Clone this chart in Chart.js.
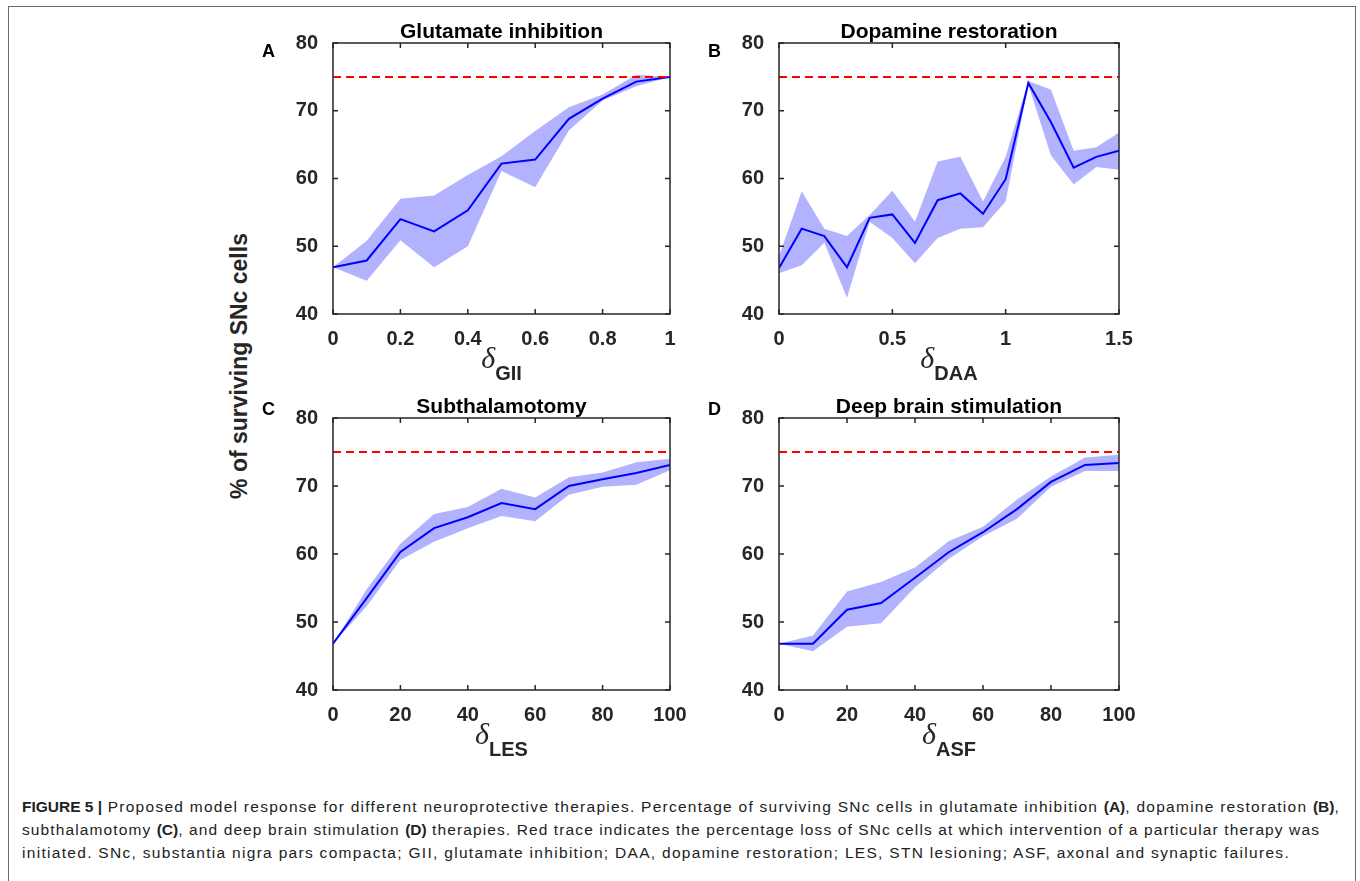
<!DOCTYPE html>
<html>
<head>
<meta charset="utf-8">
<script src="https://cdn.jsdelivr.net/npm/chart.js@4.4.1/dist/chart.umd.min.js"></script>
<style>
  body{margin:0;background:#fff;width:1360px;height:881px;overflow:hidden;position:relative;
       font-family:"Liberation Sans",Arial,Helvetica,sans-serif;}
  #frame{position:absolute;left:8px;top:6px;width:1348px;height:900px;border:1.5px solid #6a6a6a;box-sizing:border-box;}
  canvas{position:absolute;}
  .ttl{position:absolute;font-weight:bold;font-size:21px;line-height:1;text-align:center;color:#000;white-space:nowrap;}
  .let{position:absolute;font-weight:bold;font-size:18px;line-height:1;color:#000;}
  .xl{position:absolute;text-align:center;white-space:nowrap;color:#262626;line-height:1;}
  .xl .d{font-family:"Liberation Serif","DejaVu Serif",serif;font-style:italic;font-size:30px;}
  .xl .s{font-weight:bold;font-size:20px;position:relative;top:12px;}
  #ylab{position:absolute;left:239px;top:366px;transform:translate(-50%,-50%) rotate(-90deg);
        font-weight:bold;font-size:23px;color:#262626;white-space:nowrap;line-height:1;}
  #cap{position:absolute;left:22px;top:795px;font-size:15.5px;line-height:23px;color:#222;white-space:nowrap;}
  #cap span{display:block;width:max-content;}
  #cap b{letter-spacing:0 !important;}
</style>
</head>
<body>
<div id="frame"></div>
<div id="ylab">% of surviving SNc cells</div>
<div id="cap"><span data-w="1318"><b>FIGURE 5 |</b> Proposed model response for different neuroprotective therapies. Percentage of surviving SNc cells in glutamate inhibition <b>(A)</b>, dopamine restoration <b>(B)</b>,</span><span data-w="1298">subthalamotomy <b>(C)</b>, and deep brain stimulation <b>(D)</b> therapies. Red trace indicates the percentage loss of SNc cells at which intervention of a particular therapy was</span><span data-w="1268">initiated. SNc, substantia nigra pars compacta; GII, glutamate inhibition; DAA, dopamine restoration; LES, STN lesioning; ASF, axonal and synaptic failures.</span></div>
<script>
// values (% of surviving SNc cells)
const threshold = 75;
const yTicks = [40, 50, 60, 70, 80];

const xGII = [0, 0.1, 0.2, 0.3, 0.4, 0.5, 0.6, 0.7, 0.8, 0.9, 1];
const meanGII = [46.9, 47.9, 54.0, 52.2, 55.3, 62.2, 62.8, 68.8, 71.8, 74.3, 75.0];
const upperGII = [46.9, 50.8, 57.0, 57.5, 60.5, 63.3, 67.0, 70.5, 72.4, 75.3, 75.0];
const lowerGII = [46.9, 44.9, 50.9, 46.9, 50.0, 61.1, 58.7, 67.1, 71.5, 73.6, 75.0];
const ticksGII = [0, 0.2, 0.4, 0.6, 0.8, 1];

const xDAA = [0, 0.1, 0.2, 0.3, 0.4, 0.5, 0.6, 0.7, 0.8, 0.9, 1.0, 1.1, 1.2, 1.3, 1.4, 1.5];
const meanDAA = [46.8, 52.6, 51.5, 46.9, 54.2, 54.7, 50.5, 56.8, 57.8, 54.8, 59.9, 74.1, 68.3, 61.6, 63.2, 64.1];
const upperDAA = [48.5, 58.1, 52.6, 51.5, 54.6, 58.2, 53.6, 62.5, 63.2, 56.6, 63.2, 74.4, 73.1, 64.1, 64.6, 66.8];
const lowerDAA = [46.0, 47.2, 50.5, 42.4, 53.6, 51.2, 47.5, 51.2, 52.6, 52.8, 56.6, 73.8, 63.4, 59.1, 61.7, 61.3];
const ticksDAA = [0, 0.5, 1, 1.5];

const xLES = [0, 10, 20, 30, 40, 50, 60, 70, 80, 90, 100];
const meanLES = [46.8, 53.5, 60.3, 63.8, 65.4, 67.5, 66.6, 70.0, 71.0, 71.9, 73.1];
const upperLES = [46.8, 54.8, 61.5, 65.9, 66.9, 69.6, 68.3, 71.3, 72.0, 73.5, 74.0];
const lowerLES = [46.8, 52.3, 59.1, 61.8, 63.8, 65.6, 64.8, 68.7, 69.9, 70.2, 72.3];
const ticksLES = [0, 20, 40, 60, 80, 100];

const xASF = [0, 10, 20, 30, 40, 50, 60, 70, 80, 90, 100];
const meanASF = [46.8, 46.8, 51.8, 52.8, 56.5, 60.3, 63.2, 66.6, 70.6, 73.1, 73.4];
const upperASF = [46.8, 48.0, 54.5, 55.9, 58.0, 61.9, 64.0, 68.0, 71.4, 74.2, 74.6];
const lowerASF = [46.8, 45.7, 49.3, 49.8, 55.1, 59.3, 62.6, 65.2, 69.9, 72.2, 72.2];
const ticksASF = [0, 20, 40, 60, 80, 100];

const titles = ['Glutamate inhibition', 'Dopamine restoration', 'Subthalamotomy', 'Deep brain stimulation'];
const letters = ['A', 'B', 'C', 'D'];
const subscripts = ['GII', 'DAA', 'LES', 'ASF'];

const panels = [
  {x: xGII, mean: meanGII, up: upperGII, lo: lowerGII, ticks: ticksGII, box: {left: 333, top: 43, w: 337, h: 271}},
  {x: xDAA, mean: meanDAA, up: upperDAA, lo: lowerDAA, ticks: ticksDAA, box: {left: 779, top: 43, w: 340, h: 271}},
  {x: xLES, mean: meanLES, up: upperLES, lo: lowerLES, ticks: ticksLES, box: {left: 333, top: 418, w: 337, h: 272}},
  {x: xASF, mean: meanASF, up: upperASF, lo: lowerASF, ticks: ticksASF, box: {left: 779, top: 418, w: 340, h: 272}}
];

const AX = '#262626';
const PADL = 60, PADT = 25, PADR = 30, PADB = 45;

// matlab-style box with inward ticks on all four sides
const boxTicks = {
  id: 'boxTicks',
  afterDatasetsDraw(chart) {
    const {ctx, chartArea: a, scales} = chart;
    ctx.save();
    ctx.strokeStyle = AX;
    ctx.lineWidth = 1.5;
    ctx.beginPath();
    const L = 5;
    scales.x.ticks.forEach(t => {
      const px = scales.x.getPixelForValue(t.value);
      ctx.moveTo(px, a.bottom); ctx.lineTo(px, a.bottom - L);
      ctx.moveTo(px, a.top); ctx.lineTo(px, a.top + L);
    });
    scales.y.ticks.forEach(t => {
      const py = scales.y.getPixelForValue(t.value);
      ctx.moveTo(a.left, py); ctx.lineTo(a.left + L, py);
      ctx.moveTo(a.right, py); ctx.lineTo(a.right - L, py);
    });
    ctx.stroke();
    ctx.strokeRect(a.left, a.top, a.right - a.left, a.bottom - a.top);
    ctx.restore();
  }
};

const pts = (xs, ys) => xs.map((v, i) => ({x: v, y: ys[i]}));
const tickFont = {family: '"Liberation Sans", Arial, sans-serif', size: 20, weight: 'bold'};

panels.forEach((p, i) => {
  const b = p.box;
  const cv = document.createElement('canvas');
  const W = b.w + PADL + PADR, H = b.h + PADT + PADB;
  cv.width = W; cv.height = H;
  cv.style.left = (b.left - PADL) + 'px';
  cv.style.top = (b.top - PADT) + 'px';
  document.body.appendChild(cv);

  const xmin = p.ticks[0], xmax = p.ticks[p.ticks.length - 1];
  new Chart(cv, {
    type: 'line',
    data: {
      datasets: [
        {data: [{x: xmin, y: threshold}, {x: xmax, y: threshold}], borderColor: '#ff0000', borderWidth: 2,
         borderDash: [8, 5], pointRadius: 0, fill: false},
        {data: pts(p.x, p.mean), borderColor: '#0000ff', borderWidth: 2, pointRadius: 0, fill: false, tension: 0},
        {data: pts(p.x, p.up), borderColor: 'transparent', borderWidth: 0, pointRadius: 0,
         backgroundColor: 'rgba(0,0,255,0.3)', fill: '+1'},
        {data: pts(p.x, p.lo), borderColor: 'transparent', borderWidth: 0, pointRadius: 0, fill: false}
      ]
    },
    options: {
      responsive: false,
      animation: false,
      devicePixelRatio: 1,
      layout: {padding: {left: 0, top: PADT, right: PADR, bottom: 0}},
      plugins: {legend: {display: false}, tooltip: {enabled: false}},
      scales: {
        x: {
          type: 'linear', min: xmin, max: xmax,
          grid: {display: false}, border: {display: false},
          afterBuildTicks: s => { s.ticks = p.ticks.map(v => ({value: v})); },
          afterFit: s => { s.height = PADB; },
          ticks: {color: AX, font: tickFont, padding: 5, maxRotation: 0, callback: v => String(v)}
        },
        y: {
          type: 'linear', min: 40, max: 80,
          grid: {display: false}, border: {display: false},
          afterBuildTicks: s => { s.ticks = yTicks.map(v => ({value: v})); },
          afterFit: s => { s.width = PADL; },
          ticks: {color: AX, font: tickFont, padding: 7, callback: v => String(v)}
        }
      }
    },
    plugins: [boxTicks]
  });

  const cx = b.left + b.w / 2;
  const t = document.createElement('div');
  t.className = 'ttl'; t.textContent = titles[i];
  t.style.left = (cx - 150) + 'px'; t.style.width = '300px';
  t.style.top = (b.top - 23) + 'px';
  document.body.appendChild(t);

  const l = document.createElement('div');
  l.className = 'let'; l.textContent = letters[i];
  l.style.left = (b.left - 71) + 'px';
  l.style.top = (b.top + (b.top < 100 ? -1 : -18)) + 'px';
  document.body.appendChild(l);

  const xl = document.createElement('div');
  xl.className = 'xl';
  xl.innerHTML = '<span class="d">\u03b4</span><span class="s">' + subscripts[i] + '</span>';
  xl.style.left = (cx - 100) + 'px'; xl.style.width = '200px';
  xl.style.top = (b.top + b.h + 29) + 'px';
  document.body.appendChild(xl);
});

// stretch the plain text of each caption line to the width it has in the figure
document.querySelectorAll('#cap span').forEach(s => {
  const target = +s.dataset.w;
  let n = 0;
  s.childNodes.forEach(nd => { if (nd.nodeType === 3) n += nd.textContent.length; });
  const w = s.getBoundingClientRect().width;
  s.style.letterSpacing = ((target - w) / n) + 'px';
});
</script>
</body>
</html>
